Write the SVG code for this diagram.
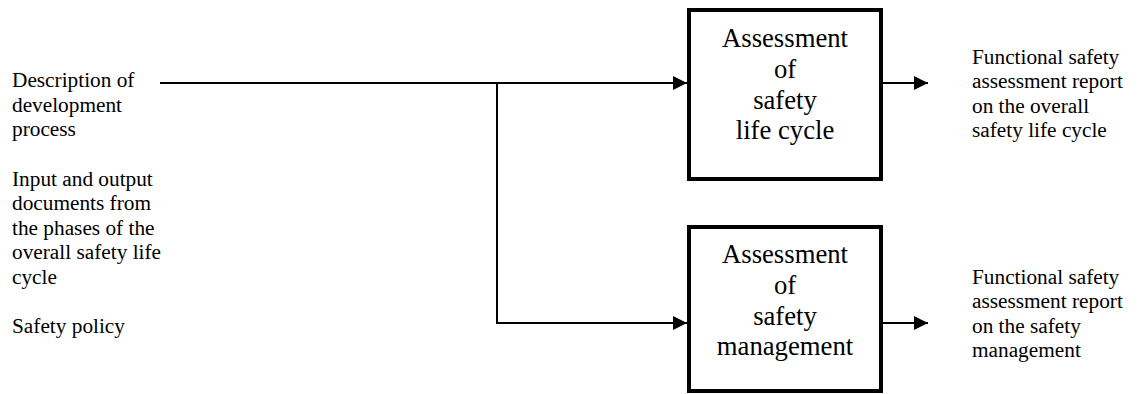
<svg xmlns="http://www.w3.org/2000/svg" width="1139" height="394" viewBox="0 0 1139 394">
<style>
text{font-family:"Liberation Serif","Times New Roman",serif;fill:#000}
.lbl{font-size:21.3px}
.box{font-size:26.7px;text-anchor:middle}
.node rect{fill:#fff;stroke:#000;stroke-width:4}
.conn{fill:none;stroke:#000;stroke-width:2}
</style>
<defs>
<marker id="ah" viewBox="0 0 14 14" refX="14" refY="7" markerWidth="14" markerHeight="14" markerUnits="userSpaceOnUse" orient="auto">
<path d="M0,0 L14,7 L0,14 Z" fill="#000"/>
</marker>
</defs>
<rect width="1139" height="394" fill="#fff"/>
<g id="inputs">
<text class="lbl" x="12" y="87"><tspan x="12" y="87">Description of</tspan><tspan x="12" y="111.5">development</tspan><tspan x="12" y="136">process</tspan></text>
<text class="lbl" x="12" y="185.5"><tspan x="12" y="185.5">Input and output</tspan><tspan x="12" y="210">documents from</tspan><tspan x="12" y="234.5">the phases of the</tspan><tspan x="12" y="259">overall safety life</tspan><tspan x="12" y="283.5">cycle</tspan></text>
<text class="lbl" x="12" y="332.5"><tspan x="12" y="332.5">Safety policy</tspan></text>
</g>
<g id="connectors">
<path class="conn" d="M160,83 L687,83" marker-end="url(#ah)"/>
<path class="conn" d="M497,83 L497,323 L687,323" marker-end="url(#ah)"/>
<path class="conn" d="M883,83 L928,83" marker-end="url(#ah)"/>
<path class="conn" d="M883,323 L928,323" marker-end="url(#ah)"/>
</g>
<g id="node-lifecycle" class="node">
<rect x="689" y="10" width="192" height="169"/>
<text class="box" x="785" y="47"><tspan x="785" y="47">Assessment</tspan><tspan x="785" y="78">of</tspan><tspan x="785" y="108.5">safety</tspan><tspan x="785" y="139">life cycle</tspan></text>
</g>
<g id="node-management" class="node">
<rect x="689" y="227" width="192" height="164"/>
<text class="box" x="785" y="263"><tspan x="785" y="263">Assessment</tspan><tspan x="785" y="294">of</tspan><tspan x="785" y="325">safety</tspan><tspan x="785" y="355">management</tspan></text>
</g>
<g id="outputs">
<text class="lbl" x="972" y="64"><tspan x="972" y="64">Functional safety</tspan><tspan x="972" y="88.3">assessment report</tspan><tspan x="972" y="112.6">on the overall</tspan><tspan x="972" y="136.9">safety life cycle</tspan></text>
<text class="lbl" x="972" y="284"><tspan x="972" y="284">Functional safety</tspan><tspan x="972" y="308.3">assessment report</tspan><tspan x="972" y="332.6">on the safety</tspan><tspan x="972" y="356.9">management</tspan></text>
</g>
</svg>
